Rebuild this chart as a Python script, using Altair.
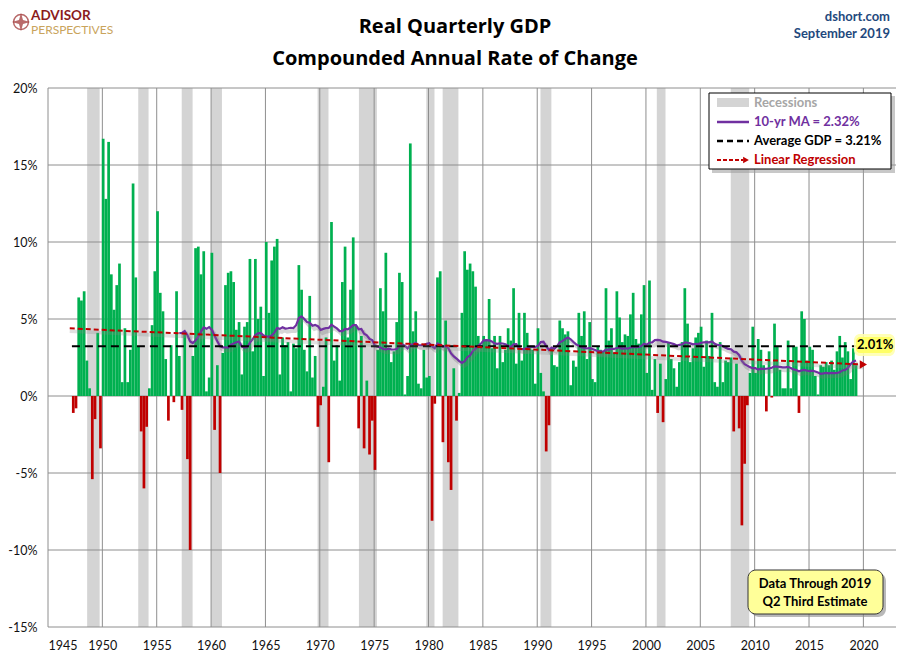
import altair as alt
import pandas as pd

# ---------------- data ----------------
# Real GDP, quarterly compounded annual rate of change (%), starting 1947 Q2
gdp_1940s = [-1.1, -0.8, 6.4,
             6.2, 6.8, 2.3, 0.5,
             -5.4, -1.5, 4.1, -3.4]
gdp_1950s = [16.7, 12.8, 16.5, 7.9,
             5.6, 7.2, 8.6, 0.9,
             4.4, 0.9, 3.0, 13.8,
             7.7, 3.2, -2.3, -6.0,
             -2.0, 0.5, 4.6, 8.1,
             12.0, 6.7, 5.5, 2.4,
             -1.6, 3.3, -0.4, 6.8,
             2.6, -0.9, 4.0, -4.1,
             -10.0, 2.6, 9.6, 9.7,
             7.9, 9.4, 0.3, 1.2]
gdp_1960s = [9.3, -2.2, 2.0, -5.0,
             2.8, 7.2, 8.0, 8.1,
             7.4, 4.3, 4.8, 1.4,
             4.5, 4.8, 8.9, 2.9,
             8.9, 5.0, 5.8, 1.3,
             10.0, 5.4, 8.8, 9.7,
             10.2, 1.4, 3.8, 3.3,
             3.5, 0.3, 3.4, 3.1,
             8.5, 6.9, 3.0, 1.6,
             6.5, 1.2, 2.6, -2.0]
gdp_1970s = [-0.6, 0.6, 3.8, -4.3,
             11.3, 2.3, 3.3, 1.0,
             7.4, 9.7, 3.8, 6.9,
             10.3, 4.6, -2.1, 3.9,
             -3.4, 1.0, -3.8, -1.6,
             -4.8, 3.0, 7.0, 5.5,
             9.3, 3.0, 2.2, 2.9,
             4.8, 8.0, 7.4, 0.1,
             1.3, 16.4, 4.2, 5.5,
             0.8, 0.5, 3.0, 1.2]
gdp_1980s = [1.3, -8.1, -0.5, 7.7,
             8.1, -3.0, 4.9, -4.3,
             -6.1, 1.8, -1.6, 0.2,
             5.4, 9.4, 8.2, 8.6,
             8.1, 7.1, 3.9, 3.3,
             3.9, 3.6, 6.3, 3.1,
             3.9, 1.8, 3.9, 2.2,
             3.0, 4.4, 3.6, 7.0,
             2.1, 5.4, 2.3, 5.4,
             4.1, 3.1, 3.0, 0.8]
gdp_1990s = [4.4, 1.5, 0.3, -3.6,
             -1.9, 3.1, 2.0, 1.9,
             4.9, 4.4, 4.0, 4.2,
             0.7, 2.3, 1.9, 5.4,
             3.9, 5.5, 2.4, 4.8,
             1.1, 0.9, 3.2, 3.0,
             2.9, 7.0, 3.6, 4.4,
             2.8, 6.8, 5.1, 3.5,
             4.0, 3.9, 5.3, 6.7,
             3.7, 3.4, 5.3, 7.2]
gdp_2000s = [1.5, 7.5, 0.4, 2.4,
             -1.1, 2.1, -1.7, 1.1,
             3.5, 2.4, 1.8, 0.6,
             2.2, 3.5, 7.0, 4.7,
             2.2, 3.1, 3.8, 4.1,
             4.5, 1.9, 3.6, 2.6,
             5.4, 0.9, 0.6, 3.5,
             0.9, 2.3, 2.2, 2.5,
             -2.3, 2.1, -2.1, -8.4,
             -4.4, -0.6, 1.5, 4.5]
gdp_2010s = [1.5, 3.7, 3.0, 2.0,
             -1.0, 2.9, -0.1, 4.7,
             3.2, 1.7, 0.5, 0.5,
             3.6, 0.5, 3.2, 3.2,
             -1.1, 5.5, 5.0, 2.3,
             3.2, 3.0, 1.3, 0.1,
             2.0, 1.9, 2.2, 2.0,
             2.3, 1.7, 2.9, 3.9,
             2.5, 3.5, 2.9, 1.1,
             3.1, 2.0]
first_year, first_quarter = 1947, 2

# NBER recessions (decimal years, as shaded in the picture)
rec_start = [1948.6, 1953.3, 1957.3, 1960.0, 1969.8, 1973.6, 1979.8, 1981.3, 1990.3, 2001.0, 2007.8]
rec_end = [1949.75, 1954.25, 1958.3, 1961.0, 1970.8, 1975.25, 1980.55, 1982.75, 1991.3, 2001.8, 2009.5]

x_ticks = [1945, 1950, 1955, 1960, 1965, 1970, 1975, 1980, 1985, 1990, 1995, 2000, 2005, 2010, 2015, 2020]
y_ticks = [-15, -10, -5, 0, 5, 10, 15, 20]

ma_label = "10-yr MA = 2.32%"
avg_label = "Average GDP = 3.21%"
reg_end_label = "2.01%"

# ---------------- build tables ----------------
values = gdp_1940s + gdp_1950s + gdp_1960s + gdp_1970s + gdp_1980s + gdp_1990s + gdp_2000s + gdp_2010s
t = [first_year + (first_quarter - 1) / 4 + i / 4 for i in range(len(values))]
df = pd.DataFrame({
    "t0": [x - 0.05 for x in t],
    "t1": [x + 0.2 for x in t],
    "tc": [x + 0.075 for x in t],
    "v": values,
    "zero": [0.0] * len(values),
})
rec_df = pd.DataFrame({"s": rec_start, "e": rec_end})
xt_df = pd.DataFrame({"yr": x_ticks})
yt_df = pd.DataFrame({"p": y_ticks})
one = pd.DataFrame({"k": [0]})

W, H = 848, 539
FONT = "Lato"
GREEN = "#00B050"
RED = "#C00000"
PURPLE = "#7030A0"
GRID = "#8E8E8E"

x_scale = alt.Scale(domain=[1945, 2023], nice=False, zero=False)
y_scale = alt.Scale(domain=[-15, 20], nice=False, zero=False)


def X(field):
    return alt.X(field, title=None)


def Y(field):
    return alt.Y(field, title=None)


def rect(x, x2, y, y2, **kw):
    return alt.Chart(one).mark_rect(**kw).encode(
        x=alt.value(x), x2=alt.value(x2), y=alt.value(y), y2=alt.value(y2))


def rule(x, x2, y, **kw):
    return alt.Chart(one).mark_rule(**kw).encode(
        x=alt.value(x), x2=alt.value(x2), y=alt.value(y))


def text(s, x, y, **kw):
    kw.setdefault("font", FONT)
    return alt.Chart(one).mark_text(text=s, **kw).encode(x=alt.value(x), y=alt.value(y))


# ---------------- layers ----------------
bars = alt.Chart(df).mark_rect().encode(
    x=alt.X("t0:Q", scale=x_scale, title=None,
            axis=alt.Axis(values=x_ticks, format="d", labelPadding=12)),
    x2="t1:Q",
    y=alt.Y("v:Q", scale=y_scale, title=None,
            axis=alt.Axis(values=y_ticks, labelExpr="datum.value + '%'", labelPadding=11)),
    y2="zero:Q",
    color=alt.condition("datum.v >= 0", alt.value(GREEN), alt.value(RED)),
)

bands = alt.Chart(rec_df).mark_rect(color="#D4D4D4").encode(
    x=X("s:Q"), x2="e:Q", y=alt.value(0), y2=alt.value(H))

vgrid = alt.Chart(xt_df).mark_rule(color=GRID, strokeWidth=1).encode(
    x=X("yr:Q"), y=alt.value(0), y2=alt.value(H))
hgrid = alt.Chart(yt_df).mark_rule(color=GRID, strokeWidth=1).encode(
    y=Y("p:Q"), x=alt.value(0), x2=alt.value(W))

ma_base = alt.Chart(df).transform_window(
    window=[alt.WindowFieldDef(op="mean", field="v", **{"as": "ma"}),
            alt.WindowFieldDef(op="count", field="v", **{"as": "n"})],
    frame=[-39, 0], sort=[alt.SortField(field="tc", order="ascending")],
).transform_filter("datum.n >= 40")
ma_shadow = ma_base.mark_line(color="#777777", opacity=0.3, strokeWidth=4, xOffset=2, yOffset=3).encode(
    x=X("tc:Q"), y=Y("ma:Q"))
ma_line = ma_base.mark_line(color=PURPLE, strokeWidth=2.2).encode(x=X("tc:Q"), y=Y("ma:Q"))

avg = alt.Chart(df).mark_rule(color="black", strokeWidth=2, strokeDash=[8, 5]).encode(
    x=X("min(t0):Q"), x2="max(t1):Q", y=Y("mean(v):Q"))

reg_base = alt.Chart(df).transform_regression("tc", "v", extent=[1947.0, 2020.0])
reg_shadow = reg_base.mark_line(color="#888888", opacity=0.25, strokeWidth=3.5, yOffset=3).encode(
    x=X("tc:Q"), y=Y("v:Q"))
reg_line = reg_base.mark_line(color=RED, strokeWidth=2, strokeDash=[5, 3]).encode(
    x=X("tc:Q"), y=Y("v:Q"))
reg_arrow = reg_base.transform_filter("datum.tc > 2019.99").mark_point(
    shape="triangle-right", filled=True, size=70, color=RED, opacity=1).encode(
    x=X("tc:Q"), y=Y("v:Q"))

# label at end of regression
lab_glow = rect(806, 847, 246, 268, fill="#FFFFB0", cornerRadius=6, opacity=0.9)
lab_bg = rect(808, 845, 249, 265, fill="#FFFF66", cornerRadius=4)
lab_txt = text(reg_end_label, 809, 257, align="left", baseline="middle", fontSize=13,
               fontWeight="bold", color="black")

# titles
title1 = text("Real Quarterly GDP", 407, -55, align="center", baseline="alphabetic",
              fontSize=20, fontWeight="bold", color="black", font="Open Sans")
title2 = text("Compounded Annual Rate of Change", 407, -23, align="center", baseline="alphabetic",
              fontSize=20, fontWeight="bold", color="black", font="Open Sans")
src1 = text("dshort.com", 842, -71, align="right", baseline="middle", fontSize=13,
            fontWeight="bold", color="#1F497D")
src2 = text("September 2019", 842, -54, align="right", baseline="middle", fontSize=13,
            fontWeight="bold", color="#1F497D")

# logo
compass_ring = alt.Chart(one).mark_point(shape="circle", size=220, color="#9B2B2B", strokeWidth=1.5,
                                          filled=False).encode(x=alt.value(-27), y=alt.value(-66))
compass_star = alt.Chart(one).mark_point(
    shape="M0,-1L0.22,-0.22L1,0L0.22,0.22L0,1L-0.22,0.22L-1,0L-0.22,-0.22Z",
    size=330, filled=True, color="#9B2B2B").encode(x=alt.value(-27), y=alt.value(-66))
logo1 = text("ADVISOR", -17, -72, align="left", baseline="middle", fontSize=13.5, fontWeight="bold",
             color="#8B1C1C")
logo2 = text("PERSPECTIVES", -17, -58, align="left", baseline="middle", fontSize=12,
             fontWeight="normal", color="#C9A45C")

# legend box
leg_shadow = rect(664, 847, 8, 85, fill="#9A9A9A", opacity=0.55)
leg_box = rect(661, 843, 5, 81, fill="white", stroke="black", strokeWidth=1)
leg_rec = rect(669, 701, 10, 19, fill="#D4D4D4")
leg_rec_t = text("Recessions", 706, 15, align="left", baseline="middle", fontSize=13,
                 fontWeight="bold", color="#A6A6A6")
leg_ma = rule(669, 701, 34, color=PURPLE, strokeWidth=2.5)
leg_ma_t = text(ma_label, 706, 34, align="left", baseline="middle", fontSize=13,
                fontWeight="bold", color=PURPLE)
leg_avg = rule(669, 701, 53, color="black", strokeWidth=2.5, strokeDash=[6, 4])
leg_avg_t = text(avg_label, 706, 53, align="left", baseline="middle", fontSize=13,
                 fontWeight="bold", color="black")
leg_reg = rule(669, 695, 72, color=RED, strokeWidth=2, strokeDash=[4, 2])
leg_reg_a = alt.Chart(one).mark_point(shape="triangle-right", filled=True, size=45, color=RED,
                                       opacity=1).encode(x=alt.value(698), y=alt.value(72))
leg_reg_t = text("Linear Regression", 706, 72, align="left", baseline="middle", fontSize=13,
                 fontWeight="bold", color=RED)

# "data through" note
note_shadow = rect(703, 838, 485, 529, fill="#8A8A8A", opacity=0.6, cornerRadius=8)
note_box = rect(700, 835, 482, 526, fill="#FFFF99", stroke="#333333", strokeWidth=1, cornerRadius=8)
note1 = text("Data Through 2019", 767, 496, align="center", baseline="middle", fontSize=13,
             fontWeight="bold", color="black")
note2 = text("Q2 Third Estimate", 767, 514, align="center", baseline="middle", fontSize=13,
             fontWeight="bold", color="black")

chart = alt.layer(
    bands, vgrid, hgrid, bars,
    ma_shadow, ma_line, avg, reg_shadow, reg_line, reg_arrow,
    lab_glow, lab_bg, lab_txt,
    title1, title2, src1, src2, compass_ring, compass_star, logo1, logo2,
    leg_shadow, leg_box, leg_rec, leg_rec_t, leg_ma, leg_ma_t, leg_avg, leg_avg_t,
    leg_reg, leg_reg_a, leg_reg_t,
    note_shadow, note_box, note1, note2,
).properties(
    width=W, height=H,
    padding={"left": 40, "top": 80, "right": 6, "bottom": 26},
    autosize=alt.AutoSizeParams(type="none"),
    background="white",
).configure_view(strokeWidth=0).configure_axis(
    grid=False, domain=False, ticks=False, labelFont=FONT, labelFontSize=12.5,
    labelColor="#111111", title=None,
)

chart.save("out.html", embed_options={"renderer": "svg", "actions": False})
